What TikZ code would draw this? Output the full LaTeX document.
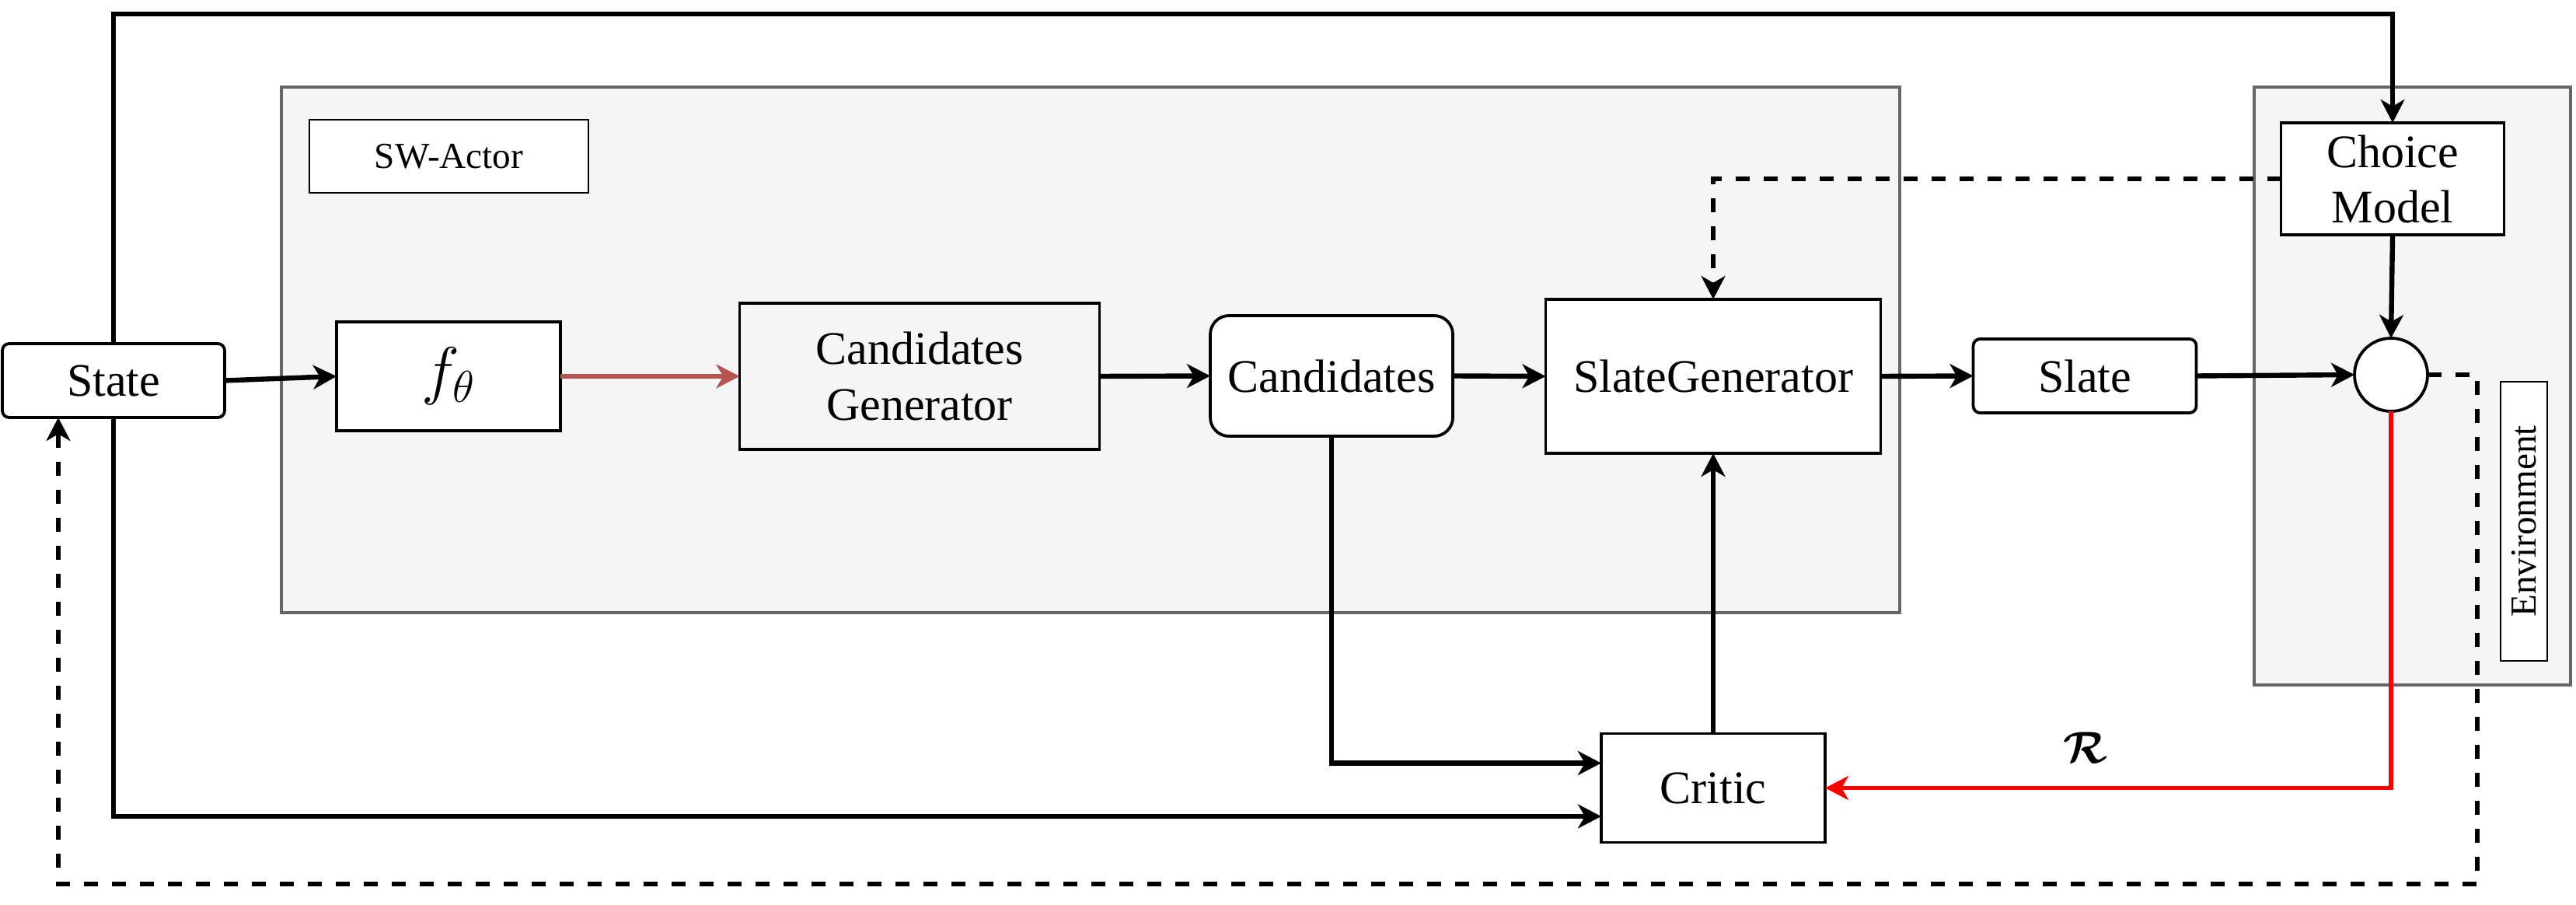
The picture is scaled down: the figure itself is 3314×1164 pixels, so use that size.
\documentclass[tikz,border=0pt]{standalone}
\usepackage{fontspec}
\setmainfont{Liberation Serif}
\usetikzlibrary{arrows.meta,calc}
\definecolor{panelfill}{HTML}{F5F5F5}
\definecolor{paneldraw}{HTML}{666666}
\definecolor{softred}{HTML}{B85450}
\definecolor{purered}{HTML}{FF0000}
\begin{document}
\begin{tikzpicture}[x=0.25pt,y=-0.25pt,
  container/.style={draw=paneldraw,fill=panelfill,line width=1.2pt,inner sep=0pt,outer sep=0pt},
  tag/.style={draw=black,fill=white,line width=0.45pt,inner sep=0pt,outer sep=0pt,font=\fontsize{11.8}{14}\selectfont},
  block/.style={draw=black,fill=white,line width=0.95pt,inner sep=0pt,outer sep=0pt,align=center,font=\fontsize{15}{18}\selectfont},
  roundblock/.style={block,rounded corners=2.2pt},
  conn/.style={line width=1.6pt,-{Stealth[length=7.5pt,width=7.7pt,inset=2.2pt]}},
  dashconn/.style={conn,dash pattern=on 4.5pt off 4.5pt}]
\useasboundingbox (0,0) rectangle (3314,1164);

% containers
\node[container,minimum width=520.5pt,minimum height=169pt] (actor) at (1403,450) {};
\node[container,minimum width=101.75pt,minimum height=192.25pt] (envbox) at (3103.5,496.5) {};
\node[tag,minimum width=89.75pt,minimum height=23.5pt] (actorlab) at (577.5,201) {SW-Actor};
\node[tag,rotate=90,minimum width=89.75pt,minimum height=15pt] (envlab) at (3247,670.5) {Environment};

% blocks
\node[roundblock,minimum width=71.5pt,minimum height=23.75pt] (state) at (146,489.5) {State};
\node[block,minimum width=72pt,minimum height=35pt,font=\fontsize{20}{22}\selectfont] (ftheta) at (577,484) {$f_\theta$};
\node[block,fill=none,minimum width=115.75pt,minimum height=47pt] (candgen) at (1183,484) {Candidates\\Generator};
\node[roundblock,minimum width=78pt,minimum height=38.75pt,rounded corners=6pt] (cands) at (1713,483.5) {Candidates};
\node[block,minimum width=107.75pt,minimum height=49.5pt] (slategen) at (2204,484) {SlateGenerator};
\node[roundblock,minimum width=71.75pt,minimum height=23.75pt] (slate) at (2682,483.5) {Slate};
\node[block,minimum width=72pt,minimum height=35pt] (critic) at (2204,1013.5) {Critic};
\node[block,minimum width=71.75pt,minimum height=36pt,font=\fontsize{15}{17.75}\selectfont] (choice) at (3078,230) {Choice\\Model};
\node[draw=black,fill=white,line width=0.95pt,circle,minimum size=23.5pt,inner sep=0pt,outer sep=0pt] (click) at (3076,482) {};

% rail coordinates
\coordinate (toprail) at (1600,18);
\coordinate (dashright) at (3187,1137);
\coordinate (dashleft) at (75,1137);

% connectors
\draw[conn] (state.east) -- (ftheta.west);
\draw[conn,color=softred] (ftheta.east) -- (candgen.west);
\draw[conn] (candgen.east) -- (cands.west);
\draw[conn] (cands.east) -- (slategen.west);
\draw[conn] (slategen.east) -- (slate.west);
\draw[conn] (slate.east) -- (click.west);
\draw[conn] (choice.south) -- (click.north);
\draw[conn] (state.north) |- (toprail) -| (choice.north);
\draw[conn] (state.south) |- ($(critic.west)+(0,36.5)$);
\draw[conn] (cands.south) |- ($(critic.west)+(0,-32)$);
\draw[conn] (critic.north) -- (slategen.south);
\draw[conn,color=purered,line width=1.4pt] (click.south) |- (critic.east);
\node[font=\fontsize{15}{18}\selectfont\boldmath] (rlab) at (2683,962) {$\mathcal{R}$};
\draw[dashconn] (choice.west) -| (slategen.north);
\draw[dashconn] (click.east) -| (dashright) -- (dashleft) -- (dashleft |- state.south);
\end{tikzpicture}
\end{document}
